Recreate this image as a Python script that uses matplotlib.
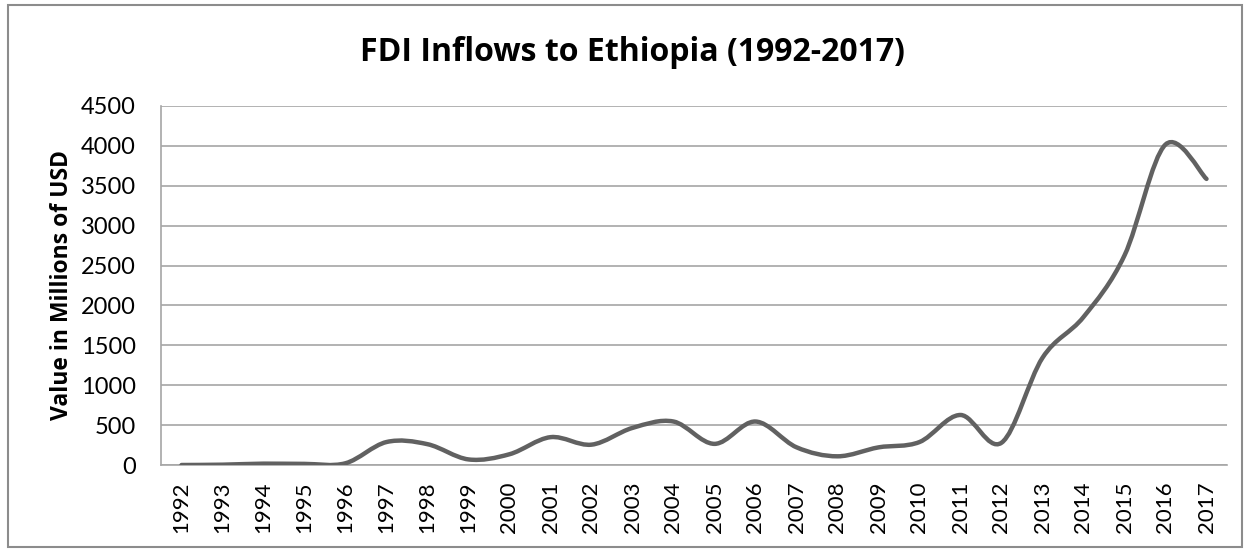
import numpy as np
import matplotlib.pyplot as plt
from matplotlib.path import Path
from matplotlib.patches import PathPatch, Rectangle

years = [str(y) for y in range(1992, 2018)]
fdi = [0, 4, 17, 14, 22, 288, 261, 70, 135, 349, 255, 465, 545, 265,
       545, 222, 109, 221, 288, 627, 279, 1344, 1855, 2627, 4017, 3586]

plt.rcParams['font.family'] = ['Lato', 'DejaVu Sans']


# excel-like smoothed line: cubic bezier through the points
def smooth_path(x, y):
    pts = np.column_stack([x, y]).astype(float)
    n = len(pts)
    verts = [pts[0]]
    codes = [Path.MOVETO]
    for i in range(n - 1):
        p0 = pts[max(i - 1, 0)]
        p1 = pts[i]
        p2 = pts[i + 1]
        p3 = pts[min(i + 2, n - 1)]
        c1 = p1 + (p2 - p0) / 6.0
        c2 = p2 - (p3 - p1) / 6.0
        verts += [c1, c2, p2]
        codes += [Path.CURVE4] * 3
    return Path(verts, codes)


fig = plt.figure(figsize=(12.5, 5.52), dpi=100)
ax = fig.add_axes([0.1288, 0.1576, 0.8528, 0.6504])

x = np.arange(len(years))
ax.add_patch(PathPatch(smooth_path(x, fdi), fill=False, edgecolor='#616161',
                       lw=3.2, capstyle='round', joinstyle='round', zorder=3))

ax.set_xlim(-0.5, len(years) - 0.5)
ax.set_ylim(0, 4500)
ax.set_yticks(range(0, 4501, 500))
ax.set_xticks(x)
ax.set_xticklabels(years, rotation=90, fontsize=16)
ax.tick_params(axis='y', labelsize=17, length=0, pad=18)
ax.tick_params(axis='x', length=0, pad=12)
ax.grid(axis='y', color='#a6a6a6', lw=1.2)
ax.set_axisbelow(True)
for s in ['top', 'right']:
    ax.spines[s].set_visible(False)
for s in ['left', 'bottom']:
    ax.spines[s].set_color('#a6a6a6')
    ax.spines[s].set_linewidth(1.2)

ax.set_ylabel('Value in Millions of USD', fontsize=16.5, fontweight='bold', labelpad=5,
              family=['Open Sans', 'DejaVu Sans'])
fig.text(0.506, 0.905, 'FDI Inflows to Ethiopia (1992-2017)', ha='center', va='center',
         fontsize=23, fontweight='bold', family=['Open Sans', 'DejaVu Sans'])

fig.patches.append(Rectangle((0.0064, 0.009), 0.9872, 0.982, transform=fig.transFigure,
                             fill=False, edgecolor='#8c8c8c', lw=1.5))

fig.savefig('out.png', dpi=100)
